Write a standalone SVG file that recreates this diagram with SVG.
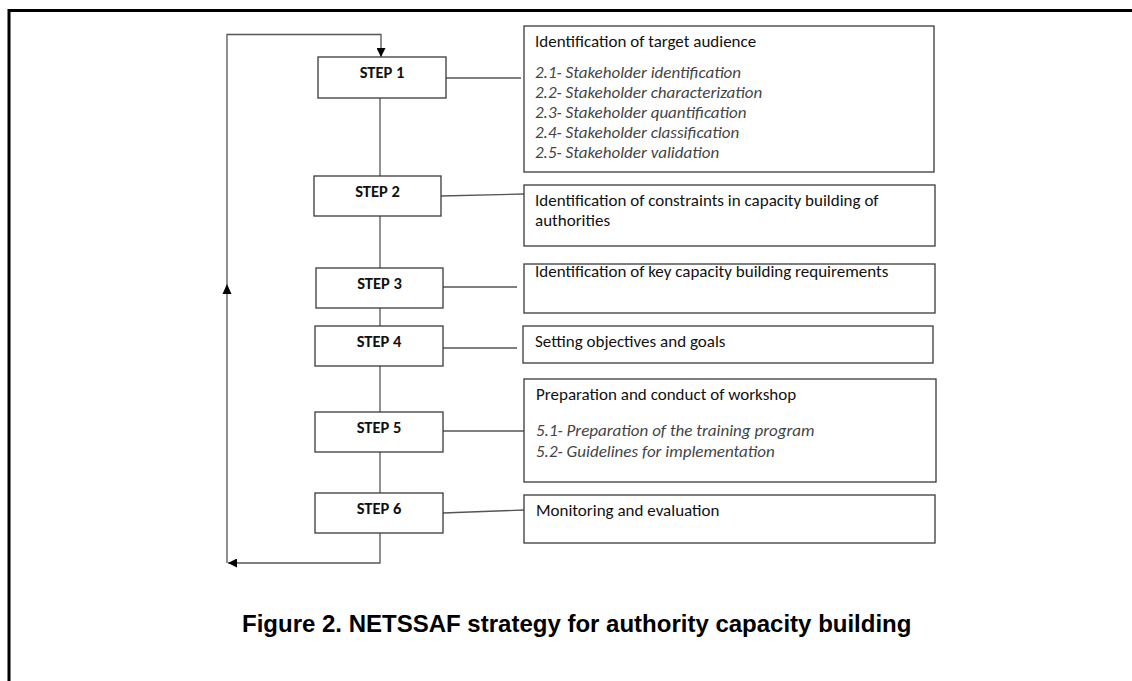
<svg xmlns="http://www.w3.org/2000/svg" width="1132" height="681" viewBox="0 0 1132 681">
<style>
.frame{fill:none;stroke:#000;stroke-width:3}
.step{fill:#fff;stroke:#3a3a3a;stroke-width:1.3}
.box{fill:#fff;stroke:#3a3a3a;stroke-width:1.3}
.conn{fill:none;stroke:#555;stroke-width:1.3}
.lbl{font-family:Carlito,Lato,"Liberation Sans",sans-serif;font-weight:bold;font-size:16.5px;fill:#111;text-anchor:middle}
.ttl{font-family:Carlito,Lato,"Liberation Sans",sans-serif;font-size:17px;fill:#111}
.itm{font-family:Carlito,Lato,"Liberation Sans",sans-serif;font-style:italic;font-size:17px;fill:#444}
.cap{font-family:"Liberation Sans",Arial,sans-serif;font-weight:bold;font-size:24px;fill:#000}
</style>
<defs>
<marker id="ah" viewBox="0 0 10 10" refX="10" refY="5" markerWidth="9" markerHeight="9" markerUnits="userSpaceOnUse" orient="auto">
<path d="M0,0 L10,5 L0,10 Z" fill="#000"/>
</marker>
</defs>
<path class="frame" d="M9,681 V10.5 H1132"/>
<g id="connectors">
<path class="conn" d="M380,533 V563 H228" marker-end="url(#ah)"/>
<path class="conn" d="M227,563 V34.5 H381 V57" marker-end="url(#ah)"/>
<path d="M222.5,294 L227,284 L231.5,294 Z" fill="#000"/>
<line class="conn" x1="380" y1="98" x2="380" y2="176"/>
<line class="conn" x1="380" y1="216" x2="380" y2="268"/>
<line class="conn" x1="380" y1="308" x2="380" y2="326"/>
<line class="conn" x1="380" y1="366" x2="380" y2="412"/>
<line class="conn" x1="380" y1="452" x2="380" y2="493"/>
<line class="conn" x1="446" y1="78" x2="521" y2="78"/>
<line class="conn" x1="441" y1="196" x2="524" y2="194"/>
<line class="conn" x1="443" y1="287" x2="517" y2="287"/>
<line class="conn" x1="443" y1="348" x2="517" y2="348"/>
<line class="conn" x1="443" y1="431" x2="524" y2="431"/>
<line class="conn" x1="443" y1="513" x2="524" y2="510"/>
</g>
<g id="step1"><rect class="step" x="318" y="57" width="128" height="41"/><text class="lbl" x="382" y="78">STEP 1</text></g>
<g id="step2"><rect class="step" x="314" y="176" width="127" height="40"/><text class="lbl" x="377.5" y="197">STEP 2</text></g>
<g id="step3"><rect class="step" x="316" y="268" width="127" height="40"/><text class="lbl" x="379.5" y="289">STEP 3</text></g>
<g id="step4"><rect class="step" x="315" y="326" width="128" height="40"/><text class="lbl" x="379" y="347">STEP 4</text></g>
<g id="step5"><rect class="step" x="315" y="412" width="128" height="40"/><text class="lbl" x="379" y="433">STEP 5</text></g>
<g id="step6"><rect class="step" x="315" y="493" width="128" height="40"/><text class="lbl" x="379" y="514">STEP 6</text></g>
<g id="box1"><rect class="box" x="524" y="26" width="410" height="146"/>
<text class="ttl" x="535" y="47">Identification of target audience</text>
<text class="itm" x="535" y="77.5">2.1- Stakeholder identification</text>
<text class="itm" x="535" y="98">2.2- Stakeholder characterization</text>
<text class="itm" x="535" y="118">2.3- Stakeholder quantification</text>
<text class="itm" x="535" y="138">2.4- Stakeholder classification</text>
<text class="itm" x="535" y="158">2.5- Stakeholder validation</text>
</g>
<g id="box2"><rect class="box" x="524" y="185" width="411" height="61"/>
<text class="ttl" x="535" y="206">Identification of constraints in capacity building  of</text>
<text class="ttl" x="535" y="226">authorities</text>
</g>
<g id="box3"><rect class="box" x="524" y="264" width="411" height="49"/>
<text class="ttl" x="535" y="277">Identification of key capacity building  requirements</text>
</g>
<g id="box4"><rect class="box" x="523" y="326" width="410" height="37"/>
<text class="ttl" x="535" y="347">Setting objectives and goals</text>
</g>
<g id="box5"><rect class="box" x="524" y="379" width="412" height="103"/>
<text class="ttl" x="536" y="400">Preparation and conduct of workshop</text>
<text class="itm" x="536" y="436">5.1- Preparation  of the training  program</text>
<text class="itm" x="536" y="457">5.2- Guidelines  for implementation</text>
</g>
<g id="box6"><rect class="box" x="524" y="495" width="411" height="48"/>
<text class="ttl" x="536" y="516">Monitoring and  evaluation</text>
</g>
<text class="cap" x="242" y="632">Figure 2. NETSSAF strategy for authority capacity building</text>
</svg>
